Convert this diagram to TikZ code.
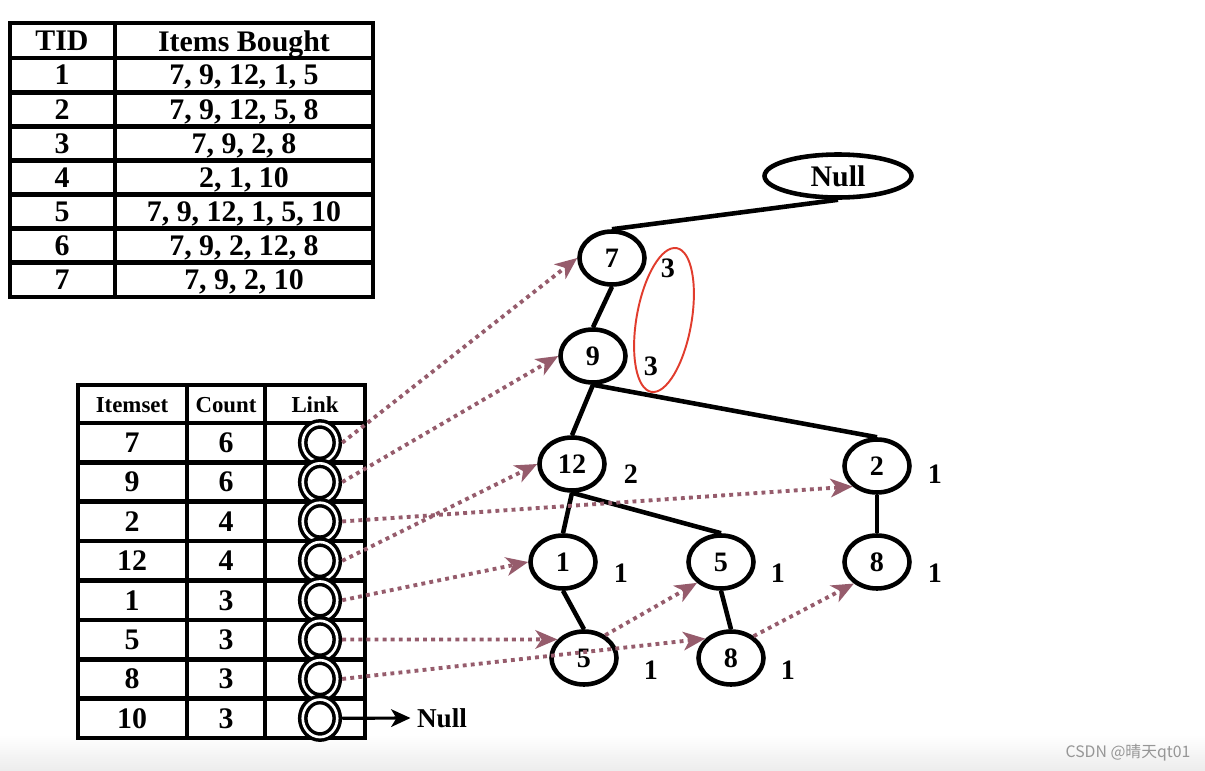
\documentclass[tikz,border=0pt]{standalone}
\usepackage{fontspec}
\setmainfont{Liberation Serif}
\newfontfamily\cjkfont{Noto Sans CJK SC}
\usetikzlibrary{arrows.meta,shapes.geometric,positioning}
\definecolor{linkmauve}{RGB}{150,92,108}
\definecolor{markred}{RGB}{225,60,45}
\definecolor{markgray}{RGB}{150,150,150}
\definecolor{stripgray}{RGB}{236,236,236}
\tikzset{
 grid/.style={line width=2.6pt},
 cell/.style={font=\bfseries\fontsize{17}{20}\selectfont,inner sep=0pt,text depth=0pt},
 head/.style={font=\bfseries\fontsize{13}{16}\selectfont,inner sep=0pt,text depth=0pt},
 fpnode/.style={ellipse,draw,line width=2.6pt,minimum width=1.3cm,minimum height=1.06cm,
  inner sep=0pt,text depth=0pt,font=\bfseries\fontsize{16}{18}\selectfont},
 cnt/.style={font=\bfseries\fontsize{16}{18}\selectfont,inner sep=0pt,text depth=0pt},
 tree/.style={line width=2.6pt},
 link/.style={ellipse,draw,line width=2pt,double=white,double distance=1.5pt,
  minimum width=0.69cm,minimum height=0.75cm,inner sep=0pt,outer sep=0.1cm},
 nodelink/.style={linkmauve,line width=2.2pt,dash pattern=on 2.2pt off 2.4pt,
  -{Stealth[length=12.5pt,width=10.5pt,inset=3.5pt]}}
}
\begin{document}
\begin{tikzpicture}[x=0.02cm,y=-0.02cm,>=Stealth,line join=miter]
 \fill[white] (0,0) rectangle (1205,771);
 \shade[top color=white,bottom color=stripgray] (0,735) rectangle (1205,771);
 \useasboundingbox (0,0) rectangle (1205,771);
 \draw[grid,line width=2.8pt] (10,23) rectangle (373,297);
 \draw[grid,line width=2.8pt] (115,23) -- (115,297);
 \foreach \k in {0,...,6} \draw[grid,line width=2.8pt] (10,{58+34.14*\k}) -- (373,{58+34.14*\k});
 \node[cell] (tidhead) at (62,41) {TID};
 \node[cell] (itemshead) at (244,41) {Items Bought};
 \foreach \t/\items [count=\i] in {1/{7, 9, 12, 1, 5},2/{7, 9, 12, 5, 8},3/{7, 9, 2, 8},
   4/{2, 1, 10},5/{7, 9, 12, 1, 5, 10},6/{7, 9, 2, 12, 8},7/{7, 9, 2, 10}}{
  \node[cell] (tid\i) at (62,{58+34.14*(\i-0.5)}) {\t};
  \node[cell] (items\i) at (244,{58+34.14*(\i-0.5)}) {\items};
 }
 \fill[white] (78,385) rectangle (365,738);
 \draw[grid] (78,385) rectangle (365,738);
 \draw[grid] (187,385) -- (187,738);
 \draw[grid] (265,385) -- (265,738);
 \foreach \k in {0,...,7} \draw[grid] (78,{423+39.375*\k}) -- (365,{423+39.375*\k});
 \node[head] (isethead) at (132,405) {Itemset};
 \node[head] (counthead) at (226,405) {Count};
 \node[head] (linkhead) at (315,405) {Link};
 \foreach \v/\c [count=\i] in {7/6,9/6,2/4,12/4,1/3,5/3,8/3,10/3}{
  \node[cell] (iset\i) at (132,{423+39.375*(\i-0.5)}) {\v};
  \node[cell] (count\i) at (226,{423+39.375*(\i-0.5)}) {\c};
 }
 \foreach \i in {1,...,8} \node[link] (lk\i) at (320,{423+39.375*(\i-0.5)}) {};
 \node[cell,font=\bfseries\fontsize{15.5}{18}\selectfont,inner sep=3.5pt] (linknull) at (442,718) {Null};
 \draw[line width=1.8pt,-{Stealth[length=11pt,width=10pt,inset=3pt]}] (lk8.east) -- (linknull.west);

 \node[fpnode,minimum width=2.94cm,minimum height=0.86cm,font=\bfseries\fontsize{17}{20}\selectfont] (nnull) at (838,176) {Null};
 \node[fpnode] (n7) at (612,258) {7};
 \node[fpnode] (n9) at (593,356) {9};
 \node[fpnode] (n12) at (572,464) {12};
 \node[fpnode] (n2) at (877,466) {2};
 \node[fpnode] (n1) at (563,562) {1};
 \node[fpnode] (n5) at (721,562) {5};
 \node[fpnode] (n8) at (877,562) {8};
 \node[fpnode] (n5b) at (584,658) {5};
 \node[fpnode] (n8b) at (731,658) {8};
 \draw[tree] (nnull.south) -- (n7.north);
 \draw[tree] (n7.south) -- (n9.north);
 \draw[tree] (n9.south) -- (n12.north);
 \draw[tree] (n9.south) -- (n2.north);
 \draw[tree] (n12.south) -- (n1.north);
 \draw[tree] (n12.south) -- (n5.north);
 \draw[tree] (n2.south) -- (n8.north);
 \draw[tree] (n1.south) -- (n5b.north);
 \draw[tree] (n5.south) -- (n8b.north);

 \node[cnt] (c7) at (668,268) {3};
 \node[cnt] (c9) at (651,366) {3};
 \node[cnt] (c12) at (631,474) {2};
 \node[cnt] (c2) at (935,474) {1};
 \node[cnt] (c1) at (621,573) {1};
 \node[cnt] (c5) at (778,573) {1};
 \node[cnt] (c8) at (935,573) {1};
 \node[cnt] (c5b) at (651,670) {1};
 \node[cnt] (c8b) at (788,670) {1};
 \draw[markred,line width=1.1pt,rotate around={-10:(664,320)}] (664,320) ellipse (0.55cm and 1.46cm);

 \draw[nodelink] (lk1.east) -- (n7.west);
 \draw[nodelink] (lk2.east) -- (n9.west);
 \draw[nodelink] (lk3.east) -- (n2.220);
 \draw[nodelink] (lk4.east) -- (n12.west);
 \draw[nodelink] (lk5.east) -- (n1.west);
 \draw[nodelink] (lk6.east) -- (n5b.145);
 \draw[nodelink] (lk7.east) -- (n8b.143);
 \draw[nodelink] (n5b.47) -- (n5.221);
 \draw[nodelink] (n8b.44) -- (n8.223);

 \node[font=\cjkfont\fontsize{9}{11}\selectfont,text=markgray] (mark) at (1128,753) {CSDN @晴天qt01};
\end{tikzpicture}
\end{document}
